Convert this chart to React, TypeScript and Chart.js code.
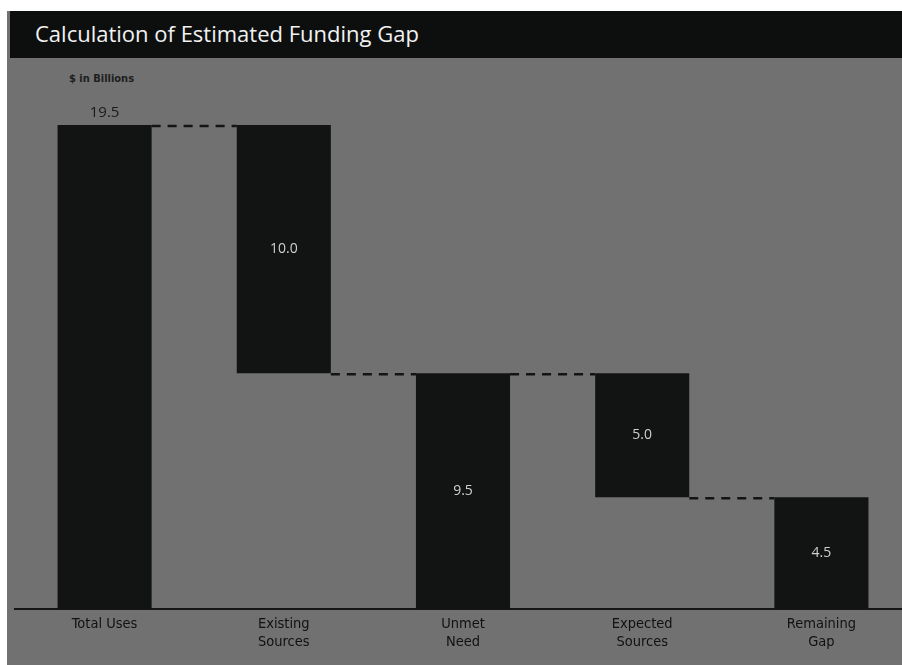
import React, { useEffect, useRef } from "react";
import { Chart, registerables } from "chart.js";

Chart.register(...registerables);

const titleText = "Calculation of Estimated Funding Gap";
const unitLabel = "$ in Billions";
const categories: string[][] = [
  ["Total Uses"],
  ["Existing", "Sources"],
  ["Unmet", "Need"],
  ["Expected", "Sources"],
  ["Remaining", "Gap"],
];
const amounts = [19.5, 10.0, 9.5, 5.0, 4.5];
const kinds = ["total", "decrease", "total", "decrease", "total"];
const valueLabels = ["19.5", "10.0", "9.5", "5.0", "4.5"];
const yMax = 19.5;

function buildRanges() {
  const ranges: [number, number][] = [];
  const levels: number[] = [];
  let level = 0;
  amounts.forEach((a, i) => {
    if (kinds[i] === "total") {
      ranges.push([0, a]);
      level = a;
    } else {
      ranges.push([level - a, level]);
      level = level - a;
    }
    levels.push(level);
  });
  return { ranges, levels };
}

export default function App() {
  const canvasRef = useRef<HTMLCanvasElement | null>(null);

  useEffect(() => {
    const canvas = canvasRef.current;
    if (!canvas) return;
    const { ranges, levels } = buildRanges();

    const connectorPlugin = {
      id: "connectors",
      afterDatasetsDraw(chart: any) {
        const meta = chart.getDatasetMeta(0);
        const y = chart.scales.y;
        const ctx = chart.ctx;
        ctx.save();
        ctx.strokeStyle = "#141414";
        ctx.lineWidth = 2.5;
        ctx.setLineDash([9, 7]);
        for (let i = 0; i < meta.data.length - 1; i++) {
          const a = meta.data[i];
          const b = meta.data[i + 1];
          const yy = y.getPixelForValue(levels[i]) + 1;
          ctx.beginPath();
          ctx.moveTo(a.x + a.width / 2, yy);
          ctx.lineTo(b.x - b.width / 2, yy);
          ctx.stroke();
        }
        ctx.restore();
      },
    };

    const labelPlugin = {
      id: "valueLabels",
      afterDatasetsDraw(chart: any) {
        const meta = chart.getDatasetMeta(0);
        const ctx = chart.ctx;
        ctx.save();
        ctx.textAlign = "center";
        meta.data.forEach((bar: any, i: number) => {
          const top = Math.min(bar.y, bar.base);
          const bottom = Math.max(bar.y, bar.base);
          if (i === 0) {
            ctx.font = "15px 'Open Sans'";
            ctx.fillStyle = "#1b1b1b";
            ctx.textBaseline = "bottom";
            ctx.fillText(valueLabels[i], bar.x, top - 5);
          } else {
            ctx.font = "14px 'Open Sans'";
            ctx.fillStyle = "#cfcfcf";
            ctx.textBaseline = "middle";
            ctx.fillText(valueLabels[i], bar.x, (top + bottom) / 2);
          }
        });
        ctx.restore();
      },
    };

    const chart = new Chart(canvas, {
      type: "bar",
      data: {
        labels: categories,
        datasets: [
          {
            data: ranges as any,
            backgroundColor: "#121414",
            borderWidth: 0,
            barPercentage: 0.525,
            categoryPercentage: 1,
          },
        ],
      },
      options: {
        responsive: false,
        animation: false,
        devicePixelRatio: 1,
        layout: { padding: { left: 15, right: 19, top: 67, bottom: 0 } },
        plugins: {
          legend: { display: false },
          tooltip: { enabled: false },
          title: { display: false },
        },
        scales: {
          x: {
            grid: { display: false, drawTicks: false },
            border: { display: true, color: "#161616", width: 2 },
            ticks: {
              color: "#111111",
              padding: 6,
              font: { family: "'DejaVu Sans Condensed', 'Liberation Sans Narrow', sans-serif", size: 14.5, lineHeight: 1.25 },
              maxRotation: 0,
              autoSkip: false,
            },
            afterFit: (scale: any) => {
              scale.height = 56;
            },
          },
          y: {
            display: false,
            min: 0,
            max: yMax,
          },
        },
      },
      plugins: [connectorPlugin, labelPlugin],
    });
    return () => chart.destroy();
  }, []);

  return (
    <div
      style={{
        position: "fixed",
        left: 0,
        top: 0,
        width: 902,
        height: 665,
        overflow: "hidden",
        background: "#ffffff",
      }}
    >
      <div
        style={{
          position: "absolute",
          left: 7,
          top: 11,
          right: 0,
          bottom: 0,
          background: "#717171",
        }}
      />
      <div
        style={{
          position: "absolute",
          left: 10,
          top: 11,
          right: 0,
          height: 47,
          background: "#0d0f0f",
          color: "#f2f2f2",
          fontFamily: "'Open Sans', sans-serif",
          fontSize: 22,
          lineHeight: "44px",
          paddingLeft: 25,
          boxSizing: "border-box",
          whiteSpace: "nowrap",
        }}
      >
        {titleText}
      </div>
      <div
        style={{
          position: "absolute",
          left: 69,
          top: 72,
          fontFamily: "'Liberation Sans Narrow', 'DejaVu Sans Condensed', sans-serif",
          fontWeight: "bold",
          fontSize: 11,
          color: "#1e1e1e",
          whiteSpace: "nowrap",
        }}
      >
        {unitLabel}
      </div>
      <canvas
        ref={canvasRef}
        width={930}
        height={607}
        style={{ position: "absolute", left: 0, top: 58, width: 930, height: 607 }}
      />
    </div>
  );
}
